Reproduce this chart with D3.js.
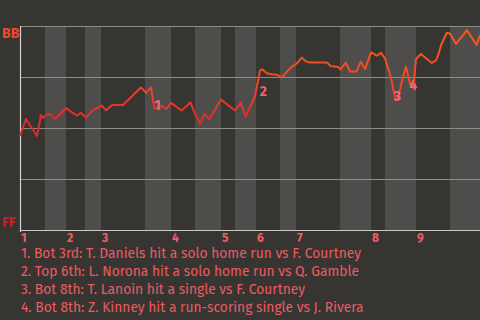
<!DOCTYPE html>
<html>
<head>
<meta charset="utf-8">
<script src="https://cdn.jsdelivr.net/npm/d3@7"></script>
<style>
  html, body { margin: 0; padding: 0; background: #363531; }
  svg { display: block; }
  text { font-family: "Fira Sans", Lato, "Noto Sans", sans-serif; }
</style>
</head>
<body>
<svg id="chart" width="480" height="320"></svg>
<script>
// Win probability chart, BB (away) on top, FF (home) at bottom

// play index, win probability for BB (%)
const plays = [0, 2.4, 6.8, 8.4, 9.2, 10.4, 12, 14, 18.4, 20, 22.8, 24.4, 26.4, 28.8, 30.8, 32.8, 34.4, 36.8, 41.2,
  48.4, 50.4, 52.4, 53.8, 56.6, 58.6, 60.4, 64.6, 68.2, 70, 72.2, 73.8, 75.8, 80.4, 82.6, 86, 88.3, 90.3,
  94, 96, 96.9, 98.7, 100.7, 103.1, 104.7, 106.7, 108.7, 110.7, 112.7, 114.4, 116, 122.8, 124.2, 127.2,
  128.2, 130.3, 132, 134.6, 136.3, 138, 140.4, 141.6, 142.8, 144.4, 146, 147.6, 148.6, 150, 151.2, 152.8,
  154.4, 156, 157.4, 158.4, 160.4, 164.7, 166.4, 167.3, 168.6, 170.7, 172, 174.4, 177.3, 178.7, 182.7, 184];
const winProb = [46.1, 54.4, 46.1, 56.4, 54.9, 56.4, 56.9, 54.4, 59.8, 58.3, 56.1, 57.4, 55.1, 58.3, 59.8, 61.0, 58.6, 61.3, 61.3,
  69.9, 67.2, 69.9, 59.3, 60.8, 59.3, 62.3, 58.6, 62.5, 56.9, 52.0, 56.9, 54.4, 64.0, 61.8, 58.6, 62.3, 55.5,
  65.7, 78.1, 78.8, 76.8, 76.3, 76.0, 74.7, 77.5, 80.0, 81.6, 84.5, 82.6, 82.1, 82.1, 80.4, 79.9,
  78.7, 82.0, 77.7, 77.7, 82.5, 78.9, 87.0, 86.3, 85.4, 86.8, 84.1, 77.9, 73.5, 64.5, 64.5, 73.0,
  80.1, 71.6, 71.1, 83.8, 86.3, 81.9, 83.1, 85.8, 91.2, 96.6, 96.3, 91.2, 95.6, 98.0, 90.7, 95.6];

// half-inning boundaries (play index)
const innings = ['1', '2', '3', '4', '5', '6', '7', '8', '9'];
const topStarts = [0, 18.4, 32.4, 60.4, 80.4, 94.4, 110.4, 140.4, 158.4];
const botStarts = [10, 26, 50, 70, 86, 104, 128, 146, 172];
const lastPlay = 184;

const gridTicks = [0, 25, 50, 75, 100];

// key plays: label, play index, win prob at label
const noteLabels = ['1', '2', '3', '4'];
const notePlays = [55, 97.3, 151, 157.3];
const noteProbs = [58.8, 65.7, 63.4, 68.6];
const noteTexts = [
  '1. Bot 3rd: T. Daniels hit a solo home run vs F. Courtney',
  '2. Top 6th: L. Norona hit a solo home run vs Q. Gamble',
  '3. Bot 8th: T. Lanoin hit a single vs F. Courtney',
  '4. Bot 8th: Z. Kinney hit a run-scoring single vs J. Rivera'
];

const svg = d3.select('#chart');
const width = 480;
const margin = { top: 26, right: 0, bottom: 90, left: 20 };
const plotBottom = 320 - margin.bottom;

const x = d3.scaleLinear().domain([0, lastPlay]).range([margin.left, width - margin.right]);
const y = d3.scaleLinear().domain([0, 100]).range([plotBottom, margin.top]);

// bottom-half shading
svg.append('g')
  .selectAll('rect')
  .data(botStarts)
  .join('rect')
  .attr('x', d => x(d))
  .attr('y', y(100))
  .attr('width', (d, i) => x(i + 1 < topStarts.length ? topStarts[i + 1] : lastPlay) - x(d))
  .attr('height', y(0) - y(100))
  .attr('fill', '#4e4d4b');

// gridlines
svg.append('g')
  .selectAll('line')
  .data(gridTicks)
  .join('line')
  .attr('x1', x(0))
  .attr('x2', x(lastPlay))
  .attr('y1', d => y(d) + 0.5)
  .attr('y2', d => y(d) + 0.5)
  .attr('stroke', d => d === 0 ? '#c9c9c6' : '#8e8d8a')
  .attr('stroke-width', 1.2);

svg.append('line')
  .attr('x1', x(0) + 0.5).attr('x2', x(0) + 0.5)
  .attr('y1', y(100)).attr('y2', y(0) + 2)
  .attr('stroke', '#d0d0cd')
  .attr('stroke-width', 1.2);

// line colour fades from orange (BB) to crimson (FF)
const grad = svg.append('defs').append('linearGradient')
  .attr('id', 'wpGrad')
  .attr('gradientUnits', 'userSpaceOnUse')
  .attr('x1', 0).attr('x2', 0)
  .attr('y1', y(100)).attr('y2', y(0));
grad.append('stop').attr('offset', '0%').attr('stop-color', '#fa5a1c');
grad.append('stop').attr('offset', '30%').attr('stop-color', '#f04522');
grad.append('stop').attr('offset', '45%').attr('stop-color', '#e02c2a');
grad.append('stop').attr('offset', '100%').attr('stop-color', '#c0182e');

const line = d3.line()
  .x((d, i) => x(plays[i]))
  .y(d => y(d));

svg.append('path')
  .datum(winProb)
  .attr('d', line)
  .attr('fill', 'none')
  .attr('stroke', 'url(#wpGrad)')
  .attr('stroke-width', 2)
  .attr('stroke-linejoin', 'round');

// key play markers
svg.append('g')
  .selectAll('text')
  .data(noteLabels)
  .join('text')
  .attr('x', (d, i) => x(notePlays[i]))
  .attr('y', (d, i) => y(noteProbs[i]))
  .attr('text-anchor', 'middle')
  .attr('font-size', 14)
  .attr('font-weight', 'bold')
  .attr('fill', '#f7707c')
  .attr('fill-opacity', 0.9)
  .text(d => d);

// team labels
svg.append('text')
  .attr('x', 2).attr('y', y(100) + 12)
  .attr('font-size', 14).attr('font-weight', 'bold')
  .attr('fill', '#ec4a2a')
  .text('BB');
svg.append('text')
  .attr('x', 2).attr('y', y(0) - 3)
  .attr('font-size', 14).attr('font-weight', 'bold')
  .attr('fill', '#c8202c')
  .text('FF');

// inning numbers
svg.append('g')
  .selectAll('text')
  .data(innings)
  .join('text')
  .attr('x', (d, i) => x(topStarts[i]) + 1)
  .attr('y', plotBottom + 12)
  .attr('font-size', 12)
  .attr('font-weight', 'bold')
  .attr('fill', '#ef5d66')
  .text(d => d);

// notes
svg.append('g')
  .selectAll('text')
  .data(noteTexts)
  .join('text')
  .attr('x', 21)
  .attr('y', (d, i) => 258 + i * 18)
  .attr('font-size', 13.8)
  .attr('fill', '#ec5b62')
  .text(d => d);
</script>
</body>
</html>
